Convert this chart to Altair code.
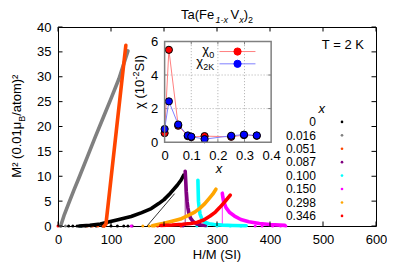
import altair as alt
import pandas as pd

FONT = "Liberation Sans"

# ---------------- main plot data (Arrott plot: M^2 vs H/M) ----------------
series_labels = ["0", "0.016", "0.051", "0.087", "0.100", "0.150", "0.298", "0.346"]
series_colors = ["#000000", "#808080", "#ff4500", "#800080", "#00ffff", "#ff00ff", "#ffa500", "#ff0000"]

hm_x0000 = [40, 60, 80, 95, 115, 138, 158, 176, 190, 200, 212, 225, 232, 237]
m2_x0000 = [0.0, 0.15, 0.4, 0.8, 1.3, 1.9, 2.7, 3.5, 4.5, 5.3, 6.6, 8.2, 9.2, 10.2]

hm_x0016 = [5, 12, 20, 30, 40, 55, 70, 85, 100, 115, 132]
m2_x0016 = [0.0, 2.3, 4.5, 7.2, 9.8, 13.8, 17.8, 21.7, 25.6, 29.6, 35.2]

hm_x0051 = [87, 90.5, 100, 110, 120, 128]
m2_x0051 = [0.0, 0.4, 9.5, 19.1, 28.7, 36.3]

hm_x0087 = [240, 241, 242, 243.5, 245, 247, 250, 255, 262, 270, 278]
m2_x0087 = [11.0, 9.0, 7.0, 5.0, 3.7, 2.5, 1.6, 0.9, 0.4, 0.2, 0.1]

hm_x0100 = [264, 264.5, 265, 266.5, 268, 272, 277, 285, 295, 310, 330, 355]
m2_x0100 = [9.2, 7.0, 5.0, 3.5, 2.4, 1.3, 0.75, 0.45, 0.3, 0.18, 0.1, 0.05]

hm_x0150 = [310, 311, 313, 317, 324, 333, 345, 360, 380, 400, 428]
m2_x0150 = [6.6, 5.8, 4.8, 3.7, 2.7, 2.0, 1.3, 0.85, 0.5, 0.3, 0.12]

hm_x0298 = [178, 188, 200, 215, 231, 245, 258, 268, 277, 285, 292, 298]
m2_x0298 = [0.05, 0.3, 0.55, 0.95, 1.4, 2.1, 2.8, 3.6, 4.5, 5.5, 6.4, 7.4]

hm_x0346 = [194, 215, 235, 250, 262, 275, 287, 297, 305, 315, 325]
m2_x0346 = [0.1, 0.2, 0.35, 0.5, 0.7, 1.2, 2.0, 2.8, 3.7, 4.9, 6.2]

curve_hm = [hm_x0000, hm_x0016, hm_x0051, hm_x0087, hm_x0100, hm_x0150, hm_x0298, hm_x0346]
curve_m2 = [m2_x0000, m2_x0016, m2_x0051, m2_x0087, m2_x0100, m2_x0150, m2_x0298, m2_x0346]

# low-field points lying on the M^2 = 0 axis
bottom_hm = [
    [20, 28, 36, 44, 52, 62, 72, 84, 100, 112, 124, 132],
    [5, 14],
    [55, 65, 75, 85],
    [140, 236],
    [42, 262, 280, 300, 325, 345],
    [138, 372, 385, 405, 420, 430],
    [160, 172, 182],
    [0, 188, 232],
]

# thin connecting lines
thin_series = [0, 3, 5]
thin_hm = [[168, 220], [240, 240], [310, 310]]
thin_m2 = [[0, 6.5], [0, 11.0], [0, 6.6]]

main_xticks = [0, 100, 200, 300, 400, 500, 600]
main_yticks = [0, 5, 10, 15, 20, 25, 30, 35, 40]

# ---------------- inset data ----------------
inset_x = [0, 0.016, 0.051, 0.087, 0.100, 0.150, 0.250, 0.298, 0.346]
chi0 = [0.54, 5.50, 0.98, 0.36, 0.30, 0.36, 0.32, 0.42, 0.38]
chi2k = [0.78, 2.43, 1.05, 0.40, 0.33, 0.18, 0.38, 0.45, 0.40]
inset_xticks = [0, 0.1, 0.2, 0.3, 0.4]
inset_yticks = [0, 2, 4, 6]
inset_xgrid = [0.1, 0.2, 0.3]
inset_ygrid = [2, 4]

# ---------------- layout ----------------
W, H = 318, 199
SX, SY = 318 / 324.5, 199 / 202.7


def px(xr):
    return (xr - 58.5) * SX


def py(yr):
    return (yr - 26) * SY


IX0, IX1 = px(167.3), px(276.0)
IY0, IY1 = py(143.3), py(40.7)

WID = {'T': .611, 'a': .556, '(': .333, 'F': .611, 'e': .556, '1': .556, '-': .333,
       'x': .5, 'V': .667, ')': .333, '2': .556, 'M': .833, '²': .333, ' ': .278,
       '0': .556, '.': .278, 'μ': .576, 'B': .667, '/': .278, 't': .278, 'o': .556,
       'm': .833, 'χ': .55, 'K': .667, 'S': .667, 'I': .278, 'H': .722}


def tw(s, size):
    return sum(WID.get(c, 0.556) for c in s) * size


one = pd.DataFrame({"a": [0]})


def text_piece(t, x, y, size=13, italic=False, angle=0, align="left", baseline="alphabetic", color="black"):
    kw = dict(text=t, fontSize=size, font=FONT, align=align, baseline=baseline, color=color)
    if italic:
        kw["fontStyle"] = "italic"
    if angle:
        kw["angle"] = angle
    return alt.Chart(one).mark_text(**kw).encode(x=alt.value(x), y=alt.value(y))


def rich(pieces, x0, y0, angle=0, align="left"):
    total = sum(tw(p[0], p[1]) for p in pieces)
    pos = {"left": 0, "center": -total / 2, "right": -total}[align]
    out = []
    for t, size, shift, italic in pieces:
        if angle == 0:
            x, y = x0 + pos, y0 + shift
        else:
            x, y = x0 + shift, y0 - pos
        out.append(text_piece(t, x, y, size=size, italic=italic, angle=angle))
        pos += tw(t, size)
    return out


# ---------------- main scales / axes ----------------
sc_mx = alt.Scale(domain=[0, 600], nice=False, zero=False)
sc_my = alt.Scale(domain=[0, 40], nice=False, zero=False)
ax_mx = alt.Axis(orient="bottom", values=main_xticks, title=None, ticks=False, tickSize=0,
                 domain=False, grid=False, labelPadding=7, labelFlush=False, labelOverlap=False, format="d")
ax_my = alt.Axis(orient="left", values=main_yticks, title=None, ticks=False, tickSize=0,
                 domain=False, grid=False, labelPadding=7, labelOverlap=False, format="d")


def MX(f):
    return alt.X(f"{f}:Q", scale=sc_mx, axis=ax_mx)


def MY(f):
    return alt.Y(f"{f}:Q", scale=sc_my, axis=ax_my)


main_layers = []

for s, hms, m2s in zip(thin_series, thin_hm, thin_m2):
    df = pd.DataFrame({"hm": hms, "m2": m2s, "i": list(range(len(hms)))})
    main_layers.append(alt.Chart(df).mark_line(color=series_colors[s], strokeWidth=0.8)
                       .encode(x=MX("hm"), y=MY("m2"), order=alt.Order("i:Q")))

for col, hms in zip(series_colors, bottom_hm):
    df = pd.DataFrame({"hm": hms, "m2": [0.0] * len(hms)})
    main_layers.append(alt.Chart(df).mark_point(color=col, filled=True, size=9, opacity=1)
                       .encode(x=MX("hm"), y=MY("m2")))

for col, hms, m2s in zip(series_colors, curve_hm, curve_m2):
    df = pd.DataFrame({"hm": hms, "m2": m2s, "i": list(range(len(hms)))})
    main_layers.append(alt.Chart(df).mark_line(color=col, strokeWidth=3.6, strokeCap="round", strokeJoin="round")
                       .encode(x=MX("hm"), y=MY("m2"), order=alt.Order("i:Q")))

# inward ticks on all four sides
TL = 4.5
dfx = pd.DataFrame({"hm": main_xticks})
dfy = pd.DataFrame({"m2": main_yticks})
main_layers.append(alt.Chart(dfx).mark_rule(color="black", strokeWidth=1)
                   .encode(x=MX("hm"), y=alt.value(H), y2=alt.value(H - TL)))
main_layers.append(alt.Chart(dfx).mark_rule(color="black", strokeWidth=1)
                   .encode(x=MX("hm"), y=alt.value(0), y2=alt.value(TL)))
main_layers.append(alt.Chart(dfy).mark_rule(color="black", strokeWidth=1)
                   .encode(y=MY("m2"), x=alt.value(0), x2=alt.value(TL)))
main_layers.append(alt.Chart(dfy).mark_rule(color="black", strokeWidth=1)
                   .encode(y=MY("m2"), x=alt.value(W), x2=alt.value(W - TL)))

# legend (gnuplot style: label right-aligned, symbol on the right)
main_layers.append(text_piece("x", px(327.7), py(113.5), size=13, italic=True, align="center"))
for k, (lab, col) in enumerate(zip(series_labels, series_colors)):
    main_layers.append(text_piece(lab, px(321.7), py(127.0 + 13.67 * k), size=12, align="right"))
    main_layers.append(alt.Chart(one).mark_point(color=col, filled=True, size=7, opacity=1)
                       .encode(x=alt.value(px(348.3)), y=alt.value(py(122.7 + 13.67 * k))))

main_layers.append(text_piece("T = 2 K", px(349.2), py(48.0), size=13, align="center"))

# title Ta(Fe_{1-x}V_x)_2
main_layers += rich([("Ta(Fe", 13, 0, False), (" 1-x", 9, 3.5, True), ("V", 13, 0, False),
                     ("x", 9, 3.5, True), (")", 13, 0, False), ("2", 9, 3.5, False)],
                    W / 2, 19 - 27, align="center")
# x title
main_layers.append(text_piece("H/M (SI)", W / 2, 258.5 - 27, size=13, align="center"))
# y title M^2 (0.01 mu_B/atom)^2
main_layers += rich([("M² (0.01μ", 13, 0, False), ("B", 9, 3.5, False), ("/atom)²", 13, 0, False)],
                    21 - 58, py(127), angle=270, align="center")

main = alt.layer(*main_layers)

# ---------------- inset ----------------
sc_ix = alt.Scale(domain=[0, 0.4], range=[IX0, IX1], nice=False, zero=False)
sc_iy = alt.Scale(domain=[0, 6], range=[IY0, IY1], nice=False, zero=False)
ax_ix = alt.Axis(orient="bottom", offset=IY0 - H, values=inset_xticks, title=None, ticks=False, tickSize=0,
                 domain=False, grid=False, labelPadding=7, labelFlush=False, labelOverlap=False,
                 format="~g", zindex=2)
ax_iy = alt.Axis(orient="left", offset=-IX0, values=inset_yticks, title=None, ticks=False, tickSize=0,
                 domain=False, grid=False, labelPadding=7, labelOverlap=False, format="d", zindex=2)


def IXe(f):
    return alt.X(f"{f}:Q", scale=sc_ix, axis=ax_ix)


def IYe(f):
    return alt.Y(f"{f}:Q", scale=sc_iy, axis=ax_iy)


frame_df = pd.DataFrame({"x0": [inset_xticks[0]], "x1": [inset_xticks[-1]],
                         "y0": [inset_yticks[0]], "y1": [inset_yticks[-1]]})
inset_layers = []
inset_layers.append(alt.Chart(frame_df).mark_rect(fill="white", strokeWidth=0)
                    .encode(x=IXe("x0"), x2="x1:Q", y=IYe("y0"), y2="y1:Q"))
gx = pd.DataFrame({"ix": inset_xgrid})
gy = pd.DataFrame({"iy": inset_ygrid})
inset_layers.append(alt.Chart(gx).mark_rule(color="#999999", strokeWidth=0.8, strokeDash=[1, 2])
                    .encode(x=IXe("ix"), y=alt.value(IY0), y2=alt.value(IY1)))
inset_layers.append(alt.Chart(gy).mark_rule(color="#999999", strokeWidth=0.8, strokeDash=[1, 2])
                    .encode(y=IYe("iy"), x=alt.value(IX0), x2=alt.value(IX1)))
ITL = 3
inset_layers.append(alt.Chart(gx).mark_rule(color="#808080", strokeWidth=1)
                    .encode(x=IXe("ix"), y=alt.value(IY0), y2=alt.value(IY0 - ITL)))
inset_layers.append(alt.Chart(gx).mark_rule(color="#808080", strokeWidth=1)
                    .encode(x=IXe("ix"), y=alt.value(IY1), y2=alt.value(IY1 + ITL)))
inset_layers.append(alt.Chart(gy).mark_rule(color="#808080", strokeWidth=1)
                    .encode(y=IYe("iy"), x=alt.value(IX0), x2=alt.value(IX0 + ITL)))
inset_layers.append(alt.Chart(gy).mark_rule(color="#808080", strokeWidth=1)
                    .encode(y=IYe("iy"), x=alt.value(IX1), x2=alt.value(IX1 - ITL)))

idf = pd.DataFrame({"ix": inset_x, "chi0": chi0, "chi2k": chi2k})
inset_layers.append(alt.Chart(idf).mark_line(color="#ff8080", strokeWidth=1)
                    .encode(x=IXe("ix"), y=IYe("chi0")))
inset_layers.append(alt.Chart(idf).mark_line(color="#8080ff", strokeWidth=1)
                    .encode(x=IXe("ix"), y=IYe("chi2k")))
inset_layers.append(alt.Chart(idf).mark_point(shape="circle", filled=True, fill="#ff0000", stroke="black",
                                              strokeWidth=1, size=52, opacity=1)
                    .encode(x=IXe("ix"), y=IYe("chi0")))
inset_layers.append(alt.Chart(idf).mark_point(shape="circle", filled=True, fill="#0000ff", stroke="black",
                                              strokeWidth=1, size=52, opacity=1)
                    .encode(x=IXe("ix"), y=IYe("chi2k")))
inset_layers.append(alt.Chart(frame_df).mark_rect(fillOpacity=0, stroke="#808080", strokeWidth=1.5)
                    .encode(x=IXe("x0"), x2="x1:Q", y=IYe("y0"), y2="y1:Q"))

# inset legend
for ry, lc, pc, sub in [(51.0, "#ff8080", "#ff0000", "0"), (63.5, "#8080ff", "#0000ff", "2K")]:
    inset_layers.append(alt.Chart(one).mark_rule(color=lc, strokeWidth=1)
                        .encode(x=alt.value(px(223.3)), x2=alt.value(px(260.0)), y=alt.value(py(ry))))
    inset_layers.append(alt.Chart(one).mark_point(shape="circle", filled=True, fill=pc, stroke=pc,
                                                  strokeWidth=1, size=52, opacity=1)
                        .encode(x=alt.value(px(241.7)), y=alt.value(py(ry))))
    inset_layers += rich([("χ", 13, 0, False), (sub, 9, 3.5, False)], px(218.0), py(ry + 2.7), align="right")

# inset axis titles
inset_layers.append(text_piece("x", px(222.7), py(175.0), size=13, italic=True, align="center"))
inset_layers += rich([("χ (10", 13, 0, False), ("-2", 9, -5, False), ("SI)", 13, 0, False)],
                     px(146.5), py(82), angle=270, align="center")

inset = alt.layer(*inset_layers)

chart = (
    alt.layer(main, inset)
    .resolve_scale(x="independent", y="independent")
    .properties(width=W, height=H, autosize=alt.AutoSizeParams(type="none"),
                padding={"left": 50, "top": 19, "right": 11, "bottom": 36})
    .configure_view(stroke="black", strokeWidth=1)
    .configure_axis(labelFont=FONT, labelFontSize=13, labelColor="black")
)

chart.save("out.html", embed_options={"renderer": "svg", "actions": False})
